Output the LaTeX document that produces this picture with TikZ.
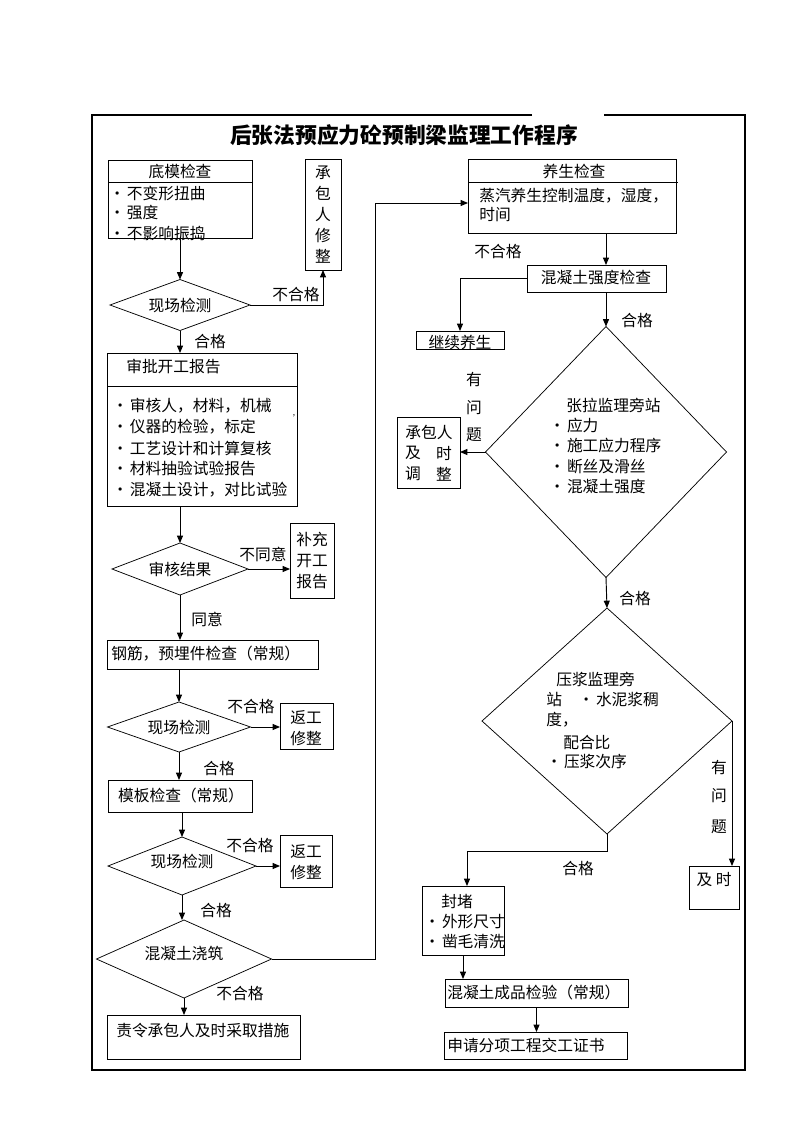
\documentclass[tikz,border=0pt]{standalone}
\usepackage{fontspec}
\setmainfont{Noto Sans CJK SC}
\usetikzlibrary{arrows.meta,shapes.geometric,fit}
\newcommand\bodyfs{\fontsize{11.8pt}{15.75pt}\selectfont}
\newcommand\bul{•\hspace{1.5pt}}
\begin{document}
\begin{tikzpicture}[x=0.75pt,y=-0.75pt,
  box/.style={draw, inner sep=0pt, outer sep=0pt, line width=0.7pt},
  dia/.style={diamond, draw, inner sep=0pt, outer sep=0pt, line width=0.55pt},
  txt/.style={inner sep=0pt, font=\bodyfs},
  vtxt/.style={inner sep=0pt, font=\bodyfs, align=center},
  arr/.style={line width=0.7pt, -{Triangle[length=5.5pt,width=4.5pt]}},
  ln/.style={line width=0.7pt}]
\fill[white] (0,0) rectangle (800,1132);
\useasboundingbox (0,0) rectangle (800,1132);
% frame
\draw[line width=1pt] (532,115) -- (92,115) -- (92,1070) -- (745,1070) -- (745,115) -- (604,115);
\node[inner sep=0pt, font=\fontsize{16.3pt}{18pt}\selectfont\bfseries] (title) at (404,135) {后张法预应力砼预制梁监理工作程序};

% ---------- left column ----------
\node[box, fit={(108,160) (252,238)}] (b1) {};
\draw[ln] (108,182) -- (252,182);
\node[txt] (b1t) at (180,171) {底模检查};
\node[txt, anchor=west] (b1a) at (109,193) {\bul 不变形扭曲};
\node[txt, anchor=west] (b1b) at (109,213) {\bul 强度};
\node[txt, anchor=west] (b1c) at (109,233) {\bul 不影响振捣};

\node[box, fit={(305,159) (341,270)}] (cb) {};
\node[vtxt] (cbt) at (323,215) {承\\包\\人\\修\\整};

\node[dia, minimum width=140*0.75pt, minimum height=51*0.75pt] (d1) at (180,305) {};
\node[txt] (d1t) at (180,305) {现场检测};
\draw[arr] (b1.south) -- (b1.south |- d1.north);
\draw[arr] (d1.east) -| (cb.south);
\node[txt] (l1) at (296,295) {不合格};

\node[box, fit={(107,353) (297,506)}] (sp) {};
\draw[ln] (107,386) -- (297,386);
\node[txt, anchor=west] (spt) at (126,367) {审批开工报告};
\node[txt, anchor=west] (spa) at (112,406) {\bul 审核人，材料，机械};
\node[txt, anchor=west] (spb) at (112,427) {\bul 仪器的检验，标定};
\node[txt, anchor=west] (spc) at (112,448) {\bul 工艺设计和计算复核};
\node[txt, anchor=west] (spd) at (112,469) {\bul 材料抽验试验报告};
\node[txt, anchor=west] (spe) at (112,490) {\bul 混凝土设计，对比试验};
\node[inner sep=0pt, font=\fontsize{6pt}{7pt}\selectfont] (spx) at (294,416) {,};
\draw[arr] (d1.south) -- (d1.south |- sp.north);
\node[txt] (l2) at (210,341) {合格};

\node[dia, minimum width=136*0.75pt, minimum height=52*0.75pt] (d2) at (180,569) {};
\node[txt] (d2t) at (180,569) {审核结果};
\draw[arr] (sp.south -| d2.north) -- (d2.north);
\node[box, fit={(290,523) (334,598)}] (bc) {};
\node[vtxt] (bct) at (312,561) {补充\\开工\\报告};
\draw[arr] (d2.east) -- (d2.east -| bc.west);
\node[txt] (l3) at (263,554) {不同意};

\node[box, fit={(107,640) (318,669)}] (gj) {};
\node[txt, anchor=west] (gjt) at (111,654) {钢筋，预埋件检查（常规）};
\draw[arr] (d2.south) -- (d2.south |- gj.north);
\node[txt] (l4) at (207,619) {同意};

\node[dia, minimum width=143*0.75pt, minimum height=50*0.75pt] (d3) at (179,727) {};
\node[txt] (d3t) at (179,727) {现场检测};
\draw[arr] (gj.south -| d3.north) -- (d3.north);
\node[box, fit={(280,703) (333,749)}] (fg1) {};
\node[vtxt] (fg1t) at (306,728) {返工\\修整};
\draw[arr] (d3.east) -- (d3.east -| fg1.west);
\node[txt] (l5) at (251,706) {不合格};

\node[box, fit={(108,780) (252,812)}] (mb) {};
\node[txt] (mbt) at (181,796) {模板检查（常规）};
\draw[arr] (d3.south) -- (d3.south |- mb.north);
\node[txt] (l6) at (219,768) {合格};

\node[dia, minimum width=148*0.75pt, minimum height=58*0.75pt] (d4) at (182,866) {};
\node[txt] (d4t) at (182,861) {现场检测};
\draw[arr] (mb.south -| d4.north) -- (d4.north);
\node[box, fit={(280,835) (332,887)}] (fg2) {};
\node[vtxt] (fg2t) at (306,862) {返工\\修整};
\draw[arr] (d4.east) -- (d4.east -| fg2.west);
\node[txt] (l7) at (250,845) {不合格};

\node[dia, minimum width=175*0.75pt, minimum height=78*0.75pt] (d5) at (184,959) {};
\node[txt] (d5t) at (184,953) {混凝土浇筑};
\draw[arr] (d4.south) -- (d4.south |- d5.north);
\node[txt] (l8) at (216,910) {合格};

\node[box, fit={(107,1015) (300,1059)}] (zl) {};
\node[txt, anchor=west] (zlt) at (116,1031) {责令承包人及时采取措施};
\draw[arr] (d5.south) -- (d5.south |- zl.north);
\node[txt] (l9) at (240,993) {不合格};

% ---------- right column ----------
\node[box, fit={(468,159) (676,233)}] (ys) {};
\draw[ln] (468,182) -- (678,182);
\node[txt] (yst) at (574,172) {养生检查};
\node[txt, anchor=west] (ysa) at (479,196) {蒸汽养生控制温度，湿度，};
\node[txt, anchor=west] (ysb) at (479,215) {时间};

\coordinate (c1) at (375,203);
\draw[arr] (d5.east) -| (c1) -- (c1 -| ys.west);

\node[dia, minimum width=241*0.75pt, minimum height=251*0.75pt] (d6) at (606,452) {};

\node[box, fit={(527,265) (666,292)}] (qd) {};
\node[txt] (qdt) at (596,278) {混凝土强度检查};
\draw[arr] (ys.south -| d6.north) -- (qd.north -| d6.north);
\node[txt] (l10) at (498,252) {不合格};

\node[box, fit={(416,331) (504,349)}] (jx) {};
\node[txt] (jxt) at (460,342) {继续养生};
\draw[arr] (qd.west) -| (jx.north);

\draw[arr] (qd.south -| d6.north) -- (d6.north);
\node[txt] (l11) at (637,320) {合格};

\node[txt, anchor=west] (d6t) at (566,405) {张拉监理旁站};
\node[txt, anchor=west] (d6a) at (549,426) {\bul 应力};
\node[txt, anchor=west] (d6b) at (549,446) {\bul 施工应力程序};
\node[txt, anchor=west] (d6c) at (549,467) {\bul 断丝及滑丝};
\node[txt, anchor=west] (d6d) at (549,487) {\bul 混凝土强度};

\node[box, fit={(397,417) (460,488)}] (cbr) {};
\node[txt] (cbra) at (429,432) {承包人};
\node[txt] (cbrb) at (413,453) {及};
\node[txt] (cbrc) at (444,453) {时};
\node[txt] (cbrd) at (413,474) {调};
\node[txt] (cbre) at (444,474) {整};
\draw[arr] (d6.west) -- (d6.west -| cbr.east);
\node[vtxt, font=\fontsize{11.8pt}{20.5pt}\selectfont] (l12) at (474,407) {有\\问\\题};

\node[dia, minimum width=250*0.75pt, minimum height=226*0.75pt] (d7) at (607,721) {};
\draw[arr] (d6.south) -- (d7.north);
\node[txt] (l13) at (635,598) {合格};
\node[txt, anchor=west] (d7a) at (556,679) {压浆监理旁};
\node[txt, anchor=west] (d7b) at (546,699) {站};
\node[txt, anchor=west] (d7c) at (578,699) {\bul 水泥浆稠};
\node[txt, anchor=west] (d7d) at (546,720) {度，};
\node[txt, anchor=west] (d7e) at (563,742) {配合比};
\node[txt, anchor=west] (d7f) at (546,762) {\bul 压浆次序};

\node[box, fit={(689,866) (739,909)}] (jsh) {};
\node[txt] (jsht) at (714,880) {及 时};
\draw[arr] (d7.east) -- (d7.east |- jsh.north);
\node[txt] (l14a) at (719,768) {有};
\node[txt] (l14b) at (719,796) {问};
\node[txt] (l14c) at (719,827) {题};

\node[box, fit={(422,886) (504,955)}] (fd) {};
\node[txt, anchor=west] (fdt) at (441,902) {封堵};
\node[txt, anchor=west] (fda) at (424,922) {\bul 外形尺寸};
\node[txt, anchor=west] (fdb) at (424,942) {\bul 凿毛清洗};
\coordinate (c2) at (467,851);
\draw[arr] (d7.south) |- (c2) -- (c2 |- fd.north);
\node[txt] (l15) at (578,868) {合格};

\node[box, fit={(445,979) (628,1007)}] (cp) {};
\node[txt, anchor=west] (cpt) at (447,993) {混凝土成品检验（常规）};
\draw[arr] (fd.south) -- (fd.south |- cp.north);

\node[box, fit={(444,1032) (627,1059)}] (sq) {};
\node[txt, anchor=west] (sqt) at (447,1045) {申请分项工程交工证书};
\draw[arr] (cp.south) -- (cp.south |- sq.north);
\end{tikzpicture}
\end{document}
